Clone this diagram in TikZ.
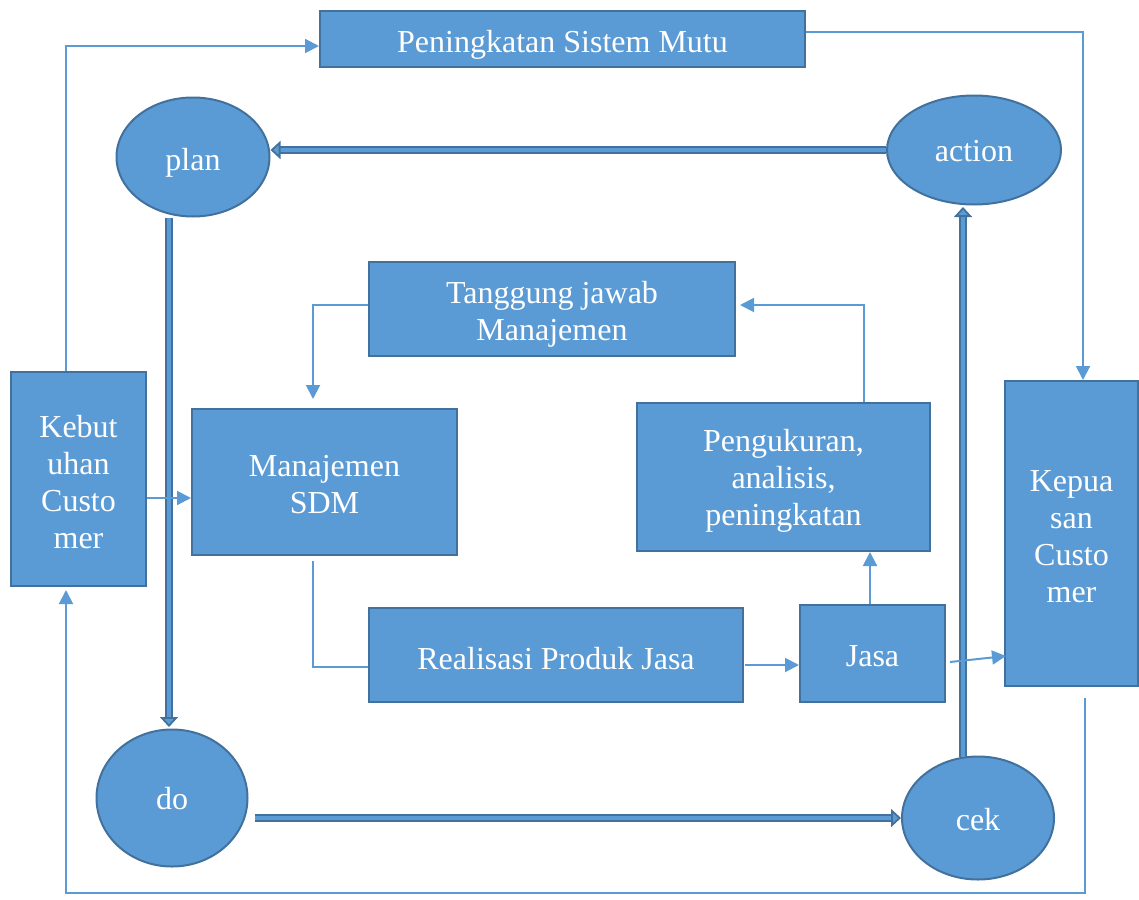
\documentclass[tikz,border=0pt]{standalone}
\usepackage{fontspec}
\setmainfont{Liberation Serif}
\usetikzlibrary{shapes.geometric,arrows.meta}
\definecolor{boxfill}{HTML}{5B9BD5}
\definecolor{boxline}{HTML}{41719C}
\definecolor{thinline}{HTML}{5B9BD5}
% lower a label inside its node without changing the node's size
\newcommand\shiftdown[2]{\raisebox{-#1}[\height][\depth]{\begin{tabular}{@{}c@{}}#2\end{tabular}}}
\begin{document}
\begin{tikzpicture}[x=1pt,y=-1pt,
  box/.style={draw=boxline,line width=2pt,fill=boxfill,text=white,align=center,
    font=\fontsize{32}{37}\selectfont,inner sep=0pt},
  oval/.style={ellipse,draw=boxline,line width=2pt,fill=boxfill,text=white,
    font=\fontsize{32}{37}\selectfont,inner sep=0pt},
  thin/.style={draw=thinline,line width=2pt,-{Triangle[length=14pt,width=14pt]}},
  plainline/.style={draw=thinline,line width=2pt},
  blockarrow/.style={draw=boxline,line width=1.8pt,double=boxfill,double distance=4.5pt,
    -{Triangle[length=10pt,width=18pt,fill=boxfill]}}]
\useasboundingbox (0,0) rectangle (1139,899);
% boxes
\node[box,minimum width=485pt,minimum height=56pt] (pen) at (562.5,39) {\shiftdown{6pt}{Peningkatan Sistem Mutu}};
\node[box,minimum width=135pt,minimum height=214pt] (keb) at (78.5,479) {\shiftdown{6.5pt}{Kebut\\uhan\\Custo\\mer}};
\node[box,minimum width=265pt,minimum height=146pt] (sdm) at (324.5,482) {\shiftdown{6pt}{Manajemen\\SDM}};
\node[box,minimum width=366pt,minimum height=94pt] (tgj) at (552,309) {\shiftdown{6pt}{Tanggung jawab\\Manajemen}};
\node[box,minimum width=293pt,minimum height=148pt] (ukr) at (783.5,477) {\shiftdown{4pt}{Pengukuran,\\analisis,\\peningkatan}};
\node[box,minimum width=374pt,minimum height=94pt] (rea) at (556,655) {\shiftdown{7pt}{Realisasi Produk Jasa}};
\node[box,minimum width=145pt,minimum height=97pt] (jas) at (872.5,653.5) {\shiftdown{6pt}{Jasa}};
\node[box,minimum width=133pt,minimum height=305pt] (kep) at (1071.5,533.5) {\shiftdown{6pt}{Kepua\\san\\Custo\\mer}};
% PDCA cycle
\node[oval,minimum width=153pt,minimum height=119pt] (plan) at (193,157) {\shiftdown{6pt}{plan}};
\node[oval,minimum width=174pt,minimum height=109pt] (act) at (974,150) {\shiftdown{4pt}{action}};
\node[oval,minimum width=151pt,minimum height=137pt] (do) at (172,798) {\shiftdown{4pt}{do}};
\node[oval,minimum width=152pt,minimum height=123pt] (cek) at (978,818) {\shiftdown{5pt}{cek}};
% cycle arrows
\draw[blockarrow] (act.west |- 0,150) -- (plan.east |- 0,150);
\draw[blockarrow] (169,218) -- (169,727);
\draw[blockarrow] (255,818) -- (cek.west |- 0,818);
\draw[blockarrow] (963,757) -- (963,207);
% outer loop
\draw[thin] (keb.north -| 66,0) -- (66,46) -- (pen.west |- 0,46);
\draw[thin] (pen.east |- 0,32) -- (1083,32) -- (kep.north -| 1083,0);
\coordinate (kepout) at (1085,698);
\draw[thin] (kepout) -- (1085,893) -- (66,893) -- (66,590);
% inner flow
\draw[thin] (keb.east |- 0,498) -- (sdm.west |- 0,498);
\draw[thin] (tgj.west |- 0,305) -- (313,305) -- (313,399);
\coordinate (sdmout) at (313,561);
\draw[plainline] (sdmout) -- (313,667) -- (rea.west |- 0,667);
\draw[thin] (745,665) -- (jas.west |- 0,665);
\draw[thin] (jas.north -| 870,0) -- (870,552);
\draw[thin] (ukr.north -| 864,0) -- (864,305) -- (740,305);
\draw[thin] (950,662) -- (1006,656);
\end{tikzpicture}
\end{document}
